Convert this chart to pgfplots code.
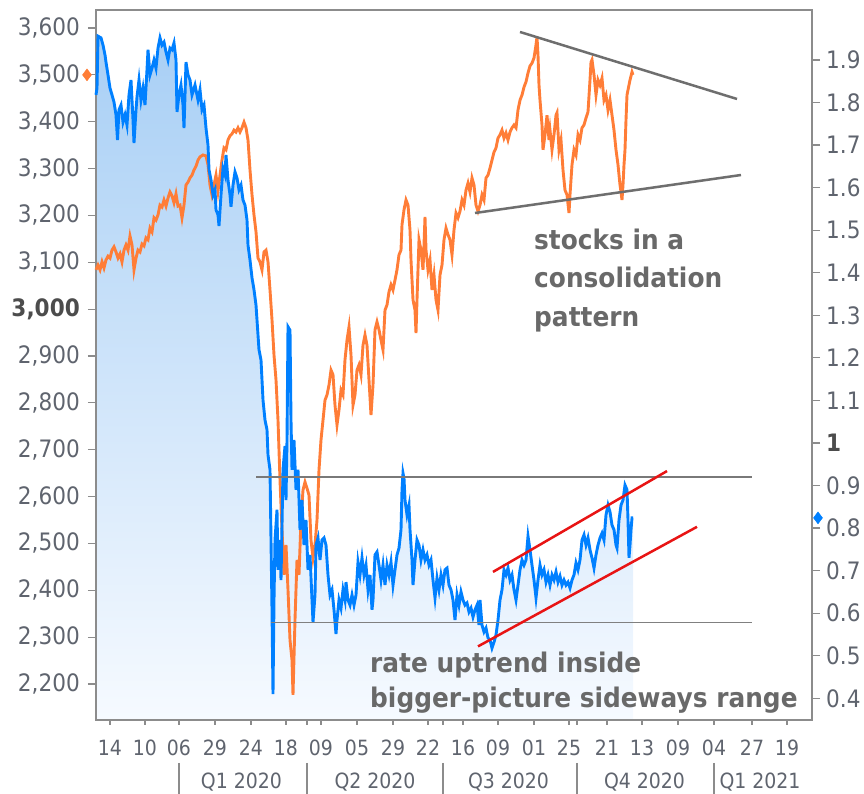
\documentclass[border=0pt]{standalone}
\usepackage{pgfplots}
\pgfplotsset{compat=1.18}
\usepackage{pgfplotstable}
\usepackage{fontspec}
\setmainfont{DejaVu Sans}[FakeStretch=0.9]
\newfontfamily\annfont{DejaVu Sans}[FakeStretch=0.92]
\definecolor{ratecol}{RGB}{0,128,255}
\definecolor{spxcol}{RGB}{255,125,55}
\definecolor{ticktext}{RGB}{95,100,110}
\definecolor{framecol}{RGB}{140,140,140}
\definecolor{anncol}{RGB}{105,105,105}
\definecolor{filltop}{RGB}{168,207,245}
\definecolor{fillbot}{RGB}{246,250,255}
\definecolor{redline}{RGB}{232,20,20}
\definecolor{greyline}{RGB}{110,110,110}

% 10-year rate (right axis), x = position along the time axis
\pgfplotstableread{
x y
96 1.818
97 1.834
98 1.956
101 1.952
103 1.935
105 1.912
106 1.895
108 1.865
110 1.834
112 1.818
114 1.801
116 1.771
117.5 1.712
119 1.783
121 1.794
123 1.754
125 1.771
127 1.747
129 1.818
131 1.853
133 1.759
134 1.705
136 1.783
137 1.813
139 1.853
141 1.806
143 1.834
145 1.794
147 1.877
148 1.924
150 1.865
152 1.881
154 1.900
156 1.881
158 1.928
160 1.952
162 1.935
164 1.942
166 1.919
168 1.900
170 1.928
172 1.924
174 1.940
176 1.900
177 1.778
179 1.818
181 1.841
183 1.794
184 1.740
186 1.895
188 1.865
190 1.853
192 1.818
195 1.841
198 1.806
200 1.830
202 1.783
204 1.794
206 1.740
208 1.700
209 1.642
211 1.618
213 1.583
215 1.595
216 1.548
218 1.536
219 1.510
221 1.583
223 1.646
225 1.630
226 1.677
228 1.618
230 1.583
231 1.555
233 1.606
235 1.637
237 1.623
239 1.595
241 1.606
243 1.571
245 1.559
247 1.524
248 1.465
250 1.430
252 1.388
254 1.360
256 1.324
258 1.254
259 1.219
261 1.195
263 1.101
265 1.054
267 1.031
268 0.972
270 0.937
271 0.772
272 0.608
273 0.410
274 0.631
275 0.772
277 0.843
278 0.702
280 0.772
281 0.678
283 0.937
285 0.993
286 0.866
287 1.007
288 1.273
290 1.265
291 1.054
292 0.937
294 1.007
296 0.890
298 0.937
300 0.796
302 0.866
304 0.760
306 0.819
308 0.702
310 0.737
312 0.631
313 0.579
315 0.643
316 0.760
318 0.777
320 0.725
322 0.772
324 0.777
326 0.760
328 0.690
330 0.643
332 0.655
334 0.608
336 0.551
337 0.584
339 0.631
341 0.612
343 0.655
345 0.631
346 0.673
348 0.631
350 0.619
352 0.643
354 0.619
356 0.643
358 0.720
360 0.690
362 0.730
364 0.690
366 0.713
368 0.655
370 0.690
372 0.608
373 0.631
375 0.737
377 0.744
379 0.713
381 0.678
383 0.713
385 0.666
387 0.713
389 0.690
391 0.720
393 0.666
395 0.702
397 0.737
399 0.753
401 0.796
402 0.890
403 0.929
404 0.917
405 0.866
407 0.831
409 0.854
410 0.796
412 0.725
413 0.666
415 0.725
417 0.772
419 0.760
421 0.725
423 0.749
425 0.725
427 0.737
429 0.713
431 0.725
433 0.678
435 0.636
437 0.683
439 0.655
441 0.690
443 0.666
445 0.702
447 0.706
449 0.666
451 0.655
453 0.631
455 0.584
457 0.643
459 0.619
461 0.650
463 0.631
465 0.619
467 0.624
469 0.603
471 0.612
473 0.591
475 0.608
477 0.619
479 0.572
480 0.631
482 0.572
484 0.556
486 0.565
488 0.542
490 0.537
492 0.518
494 0.532
496 0.549
498 0.584
500 0.631
502 0.655
504 0.702
506 0.690
508 0.706
510 0.678
512 0.690
514 0.655
516 0.631
518 0.666
520 0.702
522 0.725
524 0.713
526 0.725
528 0.781
530 0.749
532 0.713
534 0.678
536 0.636
538 0.678
540 0.713
542 0.690
544 0.702
546 0.673
548 0.690
550 0.666
552 0.690
554 0.678
556 0.697
558 0.673
560 0.687
562 0.666
564 0.678
566 0.666
568 0.673
570 0.659
572 0.678
574 0.690
576 0.718
578 0.702
580 0.725
582 0.772
584 0.784
586 0.760
588 0.777
590 0.749
592 0.730
594 0.706
596 0.737
598 0.760
600 0.777
602 0.788
604 0.772
606 0.831
608 0.854
610 0.838
612 0.807
614 0.796
616 0.760
617 0.753
619 0.819
621 0.854
623 0.866
625 0.901
627 0.890
628 0.819
629 0.730
630 0.760
631 0.796
632 0.824
633 0.824
}\ratedata

% stock index (left axis)
\pgfplotstableread{
x y
96 3084
98 3094
100 3084
102 3101
104 3088
106 3105
108 3113
110 3109
112 3126
114 3133
116 3122
118 3109
120 3118
122 3101
124 3126
126 3137
128 3126
130 3156
132 3137
134 3084
136 3109
138 3126
140 3122
142 3139
144 3135
146 3152
148 3148
150 3173
152 3165
154 3195
156 3190
158 3201
160 3222
162 3218
164 3233
166 3220
168 3237
170 3250
172 3242
174 3227
176 3246
178 3220
180 3222
182 3195
184 3222
186 3265
188 3271
190 3280
192 3286
194 3297
196 3305
198 3318
200 3325
203 3329
206 3327
208 3308
210 3265
212 3244
214 3265
216 3286
218 3252
220 3286
222 3318
224 3344
226 3340
228 3361
230 3370
232 3374
234 3382
236 3378
238 3387
240 3378
242 3387
244 3399
246 3387
248 3361
250 3297
252 3244
254 3201
256 3165
258 3109
260 3101
262 3084
264 3122
266 3126
268 3101
270 3041
272 2977
274 2902
276 2849
278 2763
280 2635
282 2529
284 2433
286 2497
288 2401
290 2294
292 2251
293 2177
295 2337
297 2465
299 2433
301 2550
303 2614
305 2631
307 2618
309 2603
311 2507
313 2469
315 2497
317 2550
319 2657
321 2721
323 2763
325 2806
327 2817
329 2838
331 2870
333 2860
335 2795
337 2753
339 2785
341 2827
343 2817
345 2892
347 2934
349 2962
351 2902
353 2795
355 2817
357 2870
359 2881
361 2860
363 2923
365 2945
367 2923
369 2849
371 2774
373 2838
375 2956
377 2973
379 2956
381 2934
383 2913
385 2998
387 3009
389 3037
391 3052
393 3041
395 3062
397 3084
399 3116
401 3126
402 3180
404 3212
406 3233
408 3222
410 3169
411 3105
413 3020
415 2998
416 2949
417 3020
419 3148
421 3126
423 3084
424 3137
425 3197
426 3126
428 3084
430 3105
432 3041
434 3073
436 3020
438 2998
440 3073
442 3094
444 3148
446 3173
448 3159
450 3148
452 3116
454 3169
456 3205
458 3195
460 3209
462 3233
464 3222
466 3254
468 3269
470 3250
472 3280
474 3265
476 3222
478 3209
480 3222
482 3244
484 3233
486 3280
488 3286
490 3301
492 3318
494 3335
496 3344
498 3365
500 3372
502 3382
504 3365
506 3376
508 3361
510 3378
512 3387
514 3393
516 3387
518 3425
520 3446
522 3457
524 3474
526 3485
528 3504
530 3519
532 3525
534 3536
536 3564
537 3581
538 3542
539 3478
540 3446
542 3393
543 3340
545 3372
547 3414
549 3361
550 3382
552 3340
554 3372
556 3414
557 3419
559 3340
561 3361
563 3297
565 3254
567 3244
569 3205
570 3244
572 3308
574 3340
576 3329
578 3372
580 3361
582 3387
584 3393
586 3408
588 3421
590 3489
591 3527
592 3532
594 3500
596 3457
598 3489
600 3478
602 3493
604 3446
606 3457
608 3425
610 3446
612 3414
614 3382
616 3340
618 3308
620 3265
621 3250
622 3233
623 3265
624 3308
625 3340
626 3404
627 3457
628 3468
630 3489
632 3506
633 3500
}\spxdata

\pgfplotsset{
  base/.style={
    scale only axis, width=716bp, height=710bp,
    xmin=96, xmax=812,
    at={(96bp,74bp)}, anchor=south west, clip=false,
    axis line style={framecol, line width=1.3bp},
    tick style={framecol, line width=1.2bp},
    tick align=outside, major tick length=8bp,
    tick label style={text=ticktext, font=\fontsize{24bp}{28bp}\selectfont},
  },
}

\begin{document}
\begin{tikzpicture}
\useasboundingbox (0,0) rectangle (864bp,794bp);

% area under the rate line
\begin{axis}[base, ymin=0.349, ymax=2.0175, hide axis]
\addplot[draw=none, top color=filltop, bottom color=fillbot]
  table[x=x, y=y]{\ratedata} -- (axis cs:633,0.349) -- (axis cs:96,0.349) -- cycle;
\end{axis}

% stock index, left axis, frame and time axis
\begin{axis}[base, ymin=2123.3, ymax=3638.4,
  tick pos=left,
  ytick={2200,2300,2400,2500,2600,2700,2800,2900,3000,3100,3200,3300,3400,3500,3600},
  yticklabels={{2,200},{2,300},{2,400},{2,500},{2,600},{2,700},{2,800},{2,900},
    {\textbf{\color{black!70}3,000}},{3,100},{3,200},{3,300},{3,400},{3,500},{3,600}},
  yticklabel style={anchor=east, inner sep=0pt, xshift=-8bp},
  xtick={110,145,179,215,251,286,307,321,357,393,428,443,463,498,534,569,577,607,642,678,714,752,787},
  xticklabels={14,10,06,29,24,18,{},09,05,29,22,{},16,09,01,25,{},21,13,09,04,27,19},
  xticklabel style={font=\fontsize{21bp}{25bp}\selectfont, anchor=base, inner sep=0pt, yshift=-28bp},
  xtick style={/pgfplots/major tick length=5bp},
]
\addplot[spxcol, line width=2.9bp] table[x=x, y=y]{\spxdata};
\addplot[greyline, line width=2.5bp] coordinates {(520,3591.5) (737,3448.5)};
\addplot[greyline, line width=2.5bp] coordinates {(475,3205.2) (741,3286.3)};
\addplot[only marks, mark=diamond*, mark size=6bp, spxcol] coordinates {(87,3500)};
\end{axis}

% rate, right axis
\begin{axis}[base, ymin=0.349, ymax=2.0175,
  axis y line*=right, axis x line=none,
  ytick={0.4,0.5,0.6,0.7,0.8,0.9,1.0,1.1,1.2,1.3,1.4,1.5,1.6,1.7,1.8,1.9},
  yticklabels={0.4,0.5,0.6,0.7,0.8,0.9,{\textbf{\color{black!70}1}},1.1,1.2,1.3,1.4,1.5,1.6,1.7,1.8,1.9},
  yticklabel style={anchor=west, inner sep=0pt, xshift=6bp},
]
\addplot[ratecol, line width=2.9bp] table[x=x, y=y]{\ratedata};
\addplot[gray!95!black, line width=2.6bp] coordinates {(256,0.920) (752,0.920)};
\addplot[gray, line width=1.8bp] coordinates {(271,0.578) (752,0.578)};
\addplot[redline, line width=2.5bp] coordinates {(493,0.697) (667,0.934)};
\addplot[redline, line width=2.5bp] coordinates {(478,0.522) (697,0.803)};
\addplot[only marks, mark=diamond*, mark size=6bp, ratecol] coordinates {(818,0.824)};
\end{axis}

% annotations
\begin{scope}[every node/.style={anchor=base west, inner sep=0pt, text=anncol,
    font=\annfont\bfseries\fontsize{27bp}{32bp}\selectfont}]
\node at (534bp,544bp) {stocks in a};
\node at (534bp,506bp) {consolidation};
\node at (534bp,467bp) {pattern};
\node at (370bp,121bp) {rate uptrend inside};
\node at (370bp,86bp) {bigger-picture sideways range};
\end{scope}

% quarter row
\foreach \xx in {179,307,443,577,714} {
  \draw[framecol, line width=1.2bp] (\xx bp,31bp) -- (\xx bp,0bp);
}
\begin{scope}[every node/.style={anchor=base, inner sep=0pt, text=ticktext,
    font=\fontsize{21bp}{25bp}\selectfont}]
\node at (241.5bp,6bp) {Q1 2020};
\node at (375bp,6bp) {Q2 2020};
\node at (508.5bp,6bp) {Q3 2020};
\node at (644.5bp,6bp) {Q4 2020};
\node at (760bp,6bp) {Q1 2021};
\end{scope}
\end{tikzpicture}
\end{document}
